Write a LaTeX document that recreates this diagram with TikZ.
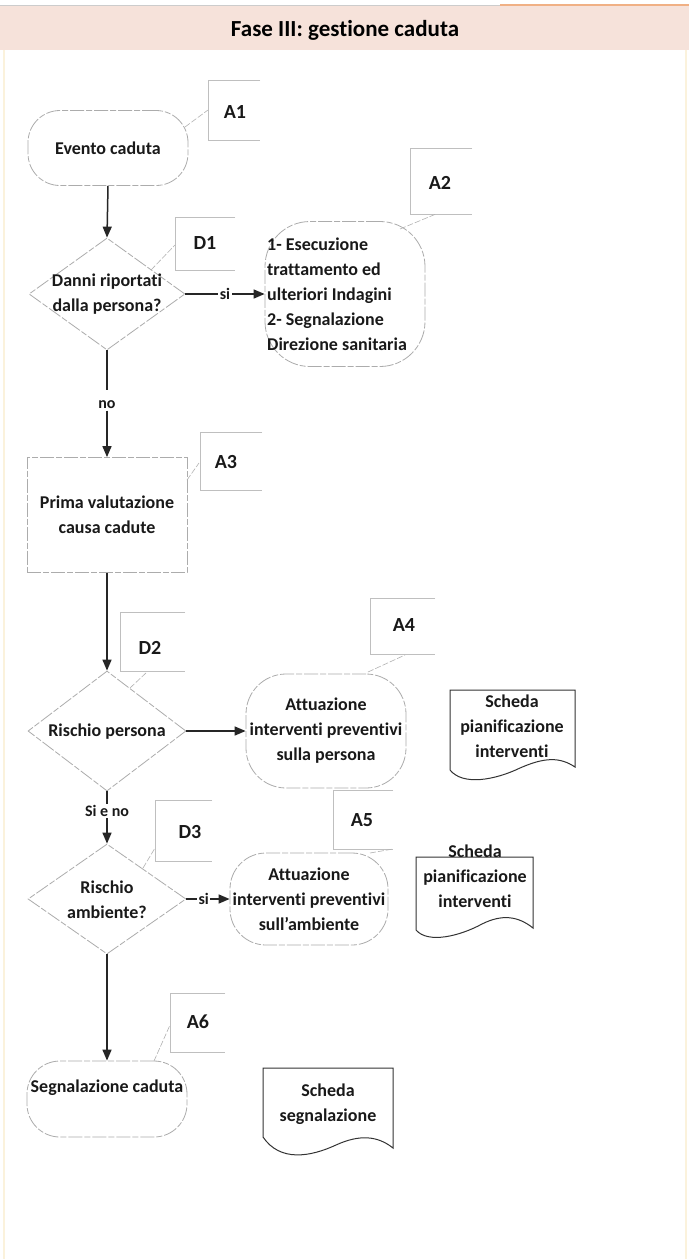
\documentclass[tikz,border=0pt]{standalone}
\usepackage{fontspec}
\setmainfont{Carlito}[Ligatures=NoCommon]
\usetikzlibrary{shapes.geometric,arrows.meta}
\definecolor{band}{RGB}{246,226,218}
\definecolor{topor}{RGB}{240,176,132}
\definecolor{frameC}{RGB}{251,242,220}
\begin{document}
\begin{tikzpicture}[x=1pt,y=-1pt,
  txt/.style={font=\bfseries\fontsize{18}{25}\selectfont, align=center, inner sep=0pt, text=black!90},
  lbl/.style={font=\bfseries\fontsize{20}{22}\selectfont, inner sep=0pt, text=black!90},
  shp/.style={draw=gray!65, line width=0.8pt, dash pattern=on 14pt off 2pt on 6pt off 2pt},
  term/.style={shp, rectangle, rounded corners=#1, inner sep=0pt},
  dia/.style={shp, diamond, inner sep=0pt},
  flow/.style={-{Triangle[length=11pt,width=9pt]}, line width=1.5pt, draw=black!85},
  plainline/.style={line width=1.5pt, draw=black!85},
  anno/.style={draw=gray!50, line width=0.6pt},
  annoc/.style={draw=gray!60, line width=0.6pt, dash pattern=on 6pt off 2pt},
  doc/.style={draw=black!80, line width=1pt},
  onl/.style={font=\bfseries\fontsize{16}{18}\selectfont, fill=white, inner sep=1.5pt, text=black!90},
]
\useasboundingbox (0,0) rectangle (689,1259);
\fill[white] (0,0) rectangle (689,1259);
% title band
\fill[band] (0,6) rectangle (689,50);
\draw[gray!40, line width=1pt] (0,5) -- (500,5);
\draw[topor, line width=1.5pt] (500,5) -- (689,5);
\draw[frameC, line width=1.5pt] (4,50) -- (4,1259);
\draw[frameC, line width=1.5pt] (686,50) -- (686,1259);
\node[font=\bfseries\fontsize{23}{26}\selectfont, inner sep=0pt] (title) at (345,30) {Fase III: gestione caduta};

% A1
\node[term=32pt, minimum width=160pt, minimum height=75pt, txt] (a1) at (108,148) {Evento caduta};
\node[lbl] (a1n) at (235,112) {A1};
\draw[anno] (260,80) -- (208,80) -- (208,140) -- (260,140);
\coordinate (a1c) at (185,127);
\coordinate (a1b) at (208,110);
\draw[annoc] (a1c) -- (a1b);

% D1
\node[dia, minimum width=156pt, minimum height=112pt] (d1) at (107,294) {};
\node[txt] (d1t) at (107,294) {Danni riportati\\dalla persona?};
\node[lbl] (d1n) at (205,243) {D1};
\draw[anno] (235,217) -- (175,217) -- (175,270) -- (235,270);
\coordinate (d1c) at (151,270);
\coordinate (d1b) at (175,245);
\draw[annoc] (d1c) -- (d1b);

% A2
\node[term=45pt, minimum width=160pt, minimum height=145pt] (a2) at (345,294) {};
\node[txt, align=left, anchor=west] (a2t) at (267,294) {1- Esecuzione\\trattamento ed\\ulteriori Indagini\\2- Segnalazione\\Direzione sanitaria};
\node[lbl] (a2n) at (440,183) {A2};
\draw[anno] (472,148) -- (410,148) -- (410,214) -- (472,214);
\coordinate (a2c) at (400,229);
\coordinate (a2b) at (436,214);
\draw[annoc] (a2c) -- (a2b);

% A3
\node[shp, rectangle, minimum width=160pt, minimum height=115pt, txt] (a3) at (107,515) {Prima valutazione\\causa cadute};
\node[lbl] (a3n) at (226,462) {A3};
\draw[anno] (262,432) -- (200,432) -- (200,490) -- (262,490);
\coordinate (a3c) at (187,480);
\coordinate (a3b) at (199,463);
\draw[annoc] (a3c) -- (a3b);

% D2
\node[dia, minimum width=158pt, minimum height=120pt] (d2) at (107,731) {};
\node[txt] (d2t) at (107,732) {Rischio persona};
\node[lbl] (d2n) at (150,648) {D2};
\draw[anno] (185,612) -- (120,612) -- (120,671) -- (185,671);
\coordinate (d2c) at (130,688);
\coordinate (d2b) at (147,672);
\draw[annoc] (d2c) -- (d2b);

% A4
\node[term=40pt, minimum width=160pt, minimum height=114pt, txt] (a4) at (326,731) {Attuazione\\interventi preventivi\\sulla persona};
\node[lbl] (a4n) at (404,625) {A4};
\draw[anno] (435,598) -- (370,598) -- (370,654) -- (435,654);
\coordinate (a4c) at (368,672);
\coordinate (a4b) at (405,655);
\draw[annoc] (a4c) -- (a4b);

% Doc 1
\draw[doc] (450,690) -- (575,690) -- (575,767) .. controls (560,757) and (545,757) .. (520,768) .. controls (495,780) and (463,786) .. (450,770) -- cycle;
\node[txt] (s1) at (512,726) {Scheda\\pianificazione\\interventi};

% Si e no
\node[onl, fill=none] (sieno) at (107,811) {Si e no};

% D3
\node[dia, minimum width=158pt, minimum height=110pt] (d3) at (107,899) {};
\node[txt] (d3t) at (107,900) {Rischio\\ambiente?};
\node[lbl] (d3n) at (190,832) {D3};
\draw[anno] (212,800) -- (155,800) -- (155,861) -- (212,861);
\coordinate (d3c) at (143,868);
\coordinate (d3b) at (155,848);
\draw[annoc] (d3c) -- (d3b);

% A5
\node[term=36pt, minimum width=158pt, minimum height=92pt, txt] (a5) at (309,899) {Attuazione\\interventi preventivi\\sull’ambiente};
\node[lbl] (a5n) at (362,820) {A5};
\draw[anno] (393,790) -- (333,790) -- (333,849) -- (393,849);
\coordinate (a5c) at (370,853);
\coordinate (a5b) at (393,849);
\draw[annoc] (a5c) -- (a5b);

% Doc 2
\draw[doc] (416,857) -- (533,857) -- (533,928) .. controls (518,916) and (502,914) .. (482,924) .. controls (460,936) and (428,944) .. (416,930) -- cycle;
\node[txt] (s2) at (475,876) {Scheda\\pianificazione\\interventi};

% A6
\node[term=33pt, minimum width=160pt, minimum height=76pt] (a6) at (107,1099) {};
\node[txt] (a6t) at (107,1088) {Segnalazione caduta};
\node[lbl] (a6n) at (198,1022) {A6};
\draw[anno] (225,993) -- (170,993) -- (170,1052) -- (225,1052);
\coordinate (a6c) at (154,1061);
\coordinate (a6b) at (170,1025);
\draw[annoc] (a6c) -- (a6b);

% Doc 3
\draw[doc] (263,1068) -- (393,1068) -- (393,1148) .. controls (378,1136) and (360,1134) .. (336,1145) .. controls (310,1157) and (280,1162) .. (263,1137) -- cycle;
\node[txt] (s3) at (328,1104) {Scheda\\segnalazione};

% connectors
\draw[flow] (a1.south) -- (d1.north);
\draw[flow] (d1.east) -- node[onl] (si1) {si} (a2.west);
\draw[plainline] (d1.south) -- (107,390);
\node[onl] (no1) at (107,405) {no};
\draw[flow] (no1.south) -- (a3.north);
\draw[flow] (a3.south) -- (d2.north);
\draw[flow] (d2.east) -- (a4.west);
\draw[plainline] (d2.south) -- (sieno.north);
\draw[flow] (sieno.south) -- (d3.north);
\draw[flow] (d3.east) -- node[onl, pos=0.4] (si2) {si} (a5.west);
\draw[flow] (d3.south) -- (a6.north);
\end{tikzpicture}
\end{document}
